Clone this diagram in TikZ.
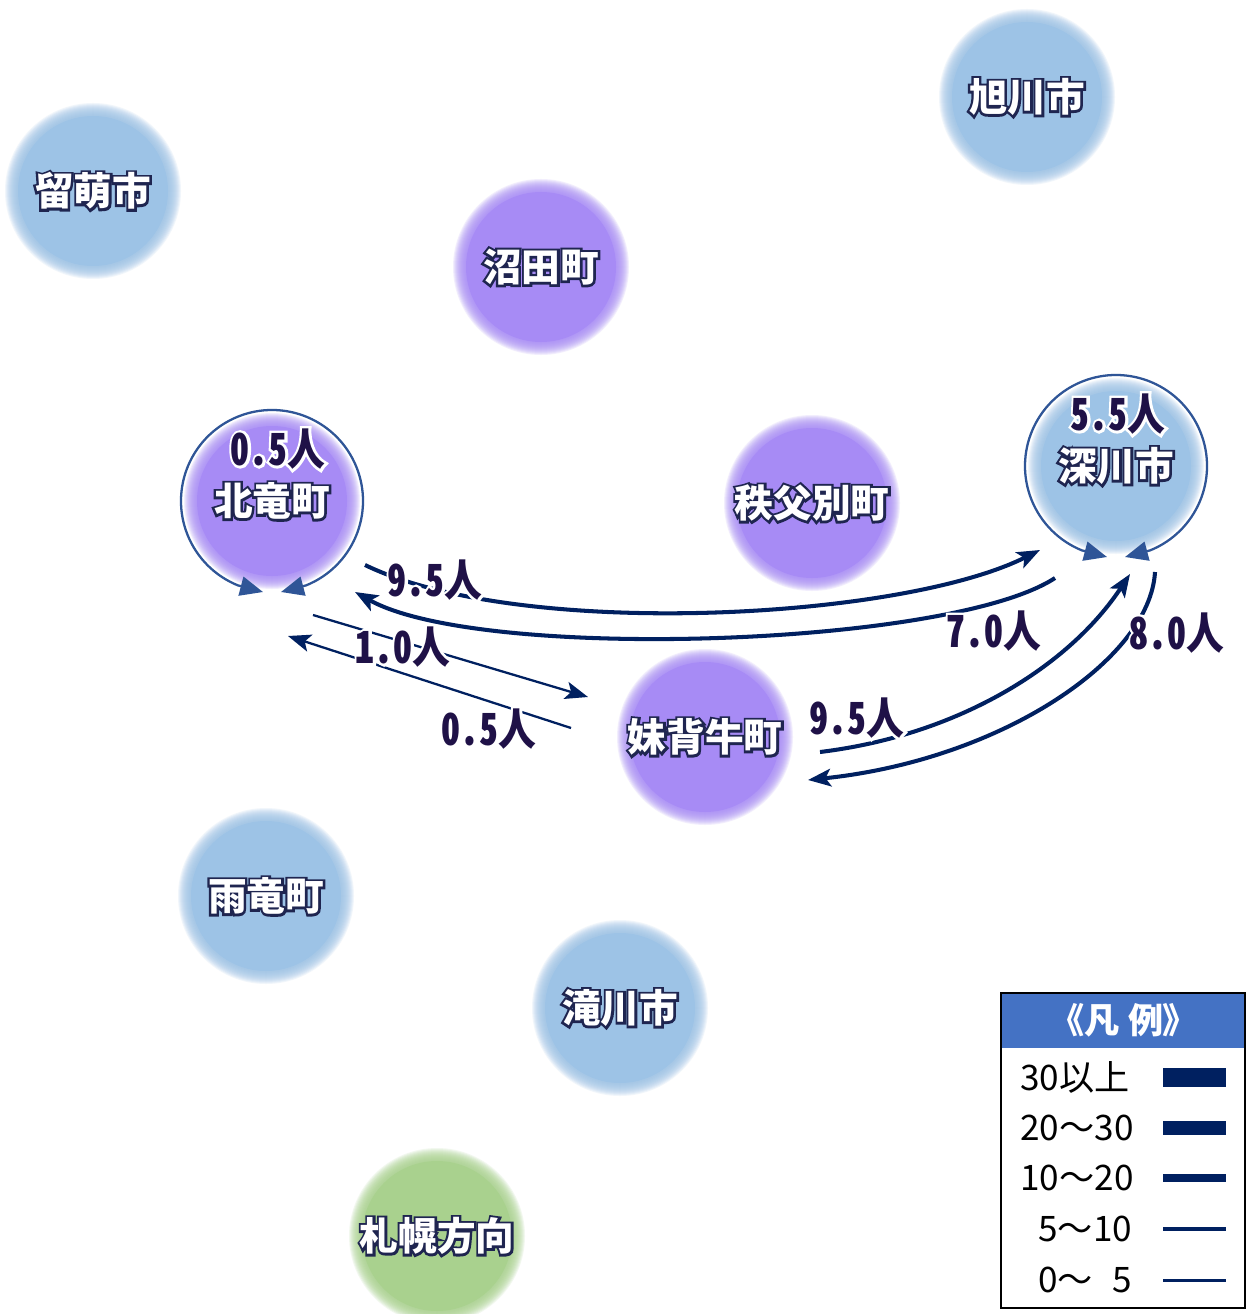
\documentclass[tikz,border=0pt]{standalone}
\usepackage{fontspec}
\usetikzlibrary{arrows.meta}
\newfontfamily\jpfont{Noto Sans CJK JP}
\newfontfamily\jpglow{Noto Sans CJK JP}[FakeBold=12]
\newfontfamily\numfont{Noto Sans CJK JP}[CharacterWidth=Half, FakeStretch=0.86]
\newfontfamily\numglow{Noto Sans CJK JP}[CharacterWidth=Half, FakeStretch=0.86, FakeBold=12]
\newfontfamily\legfont{Noto Sans CJK JP}[CharacterWidth=AlternateProportional]
\definecolor{cblue}{HTML}{9DC3E6}
\definecolor{cpurple}{HTML}{A78BF5}
\definecolor{cgreen}{HTML}{A9D18E}
\definecolor{navy}{HTML}{002060}
\definecolor{ringblue}{HTML}{2F5597}
\definecolor{numcol}{HTML}{1F1147}
\definecolor{shadowcol}{HTML}{1F2550}
\definecolor{legblue}{HTML}{4472C4}

% text with a glow round it: colour, glow font, text
\newcommand\halo[3]{\rlap{\textcolor{#1}{#2#3}}#3}
% disc with a soft edge
\newcommand\softdisc[2]{%
  \foreach \rr in {88,87,...,76}{\fill[#2, opacity=.14] (#1) circle (\rr);}%
  \fill[#2] (#1) circle (75);}

\tikzset{
  town/.style={text=white, inner sep=0pt, font=\jpfont\bfseries\fontsize{22}{26}\selectfont},
  people/.style={text=numcol, inner sep=0pt, font=\numfont\bfseries\fontsize{25}{28}\selectfont},
  flowline/.style={navy, line width=2.3pt, -{Stealth[length=13pt,width=10pt,inset=3pt]}},
  thinflow/.style={flowline, line width=1.3pt},
  selfring/.style={ringblue, line width=1.3pt,
    {Triangle[length=13pt,width=11pt]}-{Triangle[length=13pt,width=11pt]}},
  legtext/.style={inner sep=0pt, anchor=west, font=\jpfont\fontsize{20}{24}\selectfont},
}

\begin{document}
\begin{tikzpicture}[x=0.02cm,y=-0.02cm]
\fill[white] (0,0) rectangle (1247,1314);
\useasboundingbox (0,0) rectangle (1247,1314);

% towns
\foreach \nm/\pos/\col/\txt in {
    rumoi/{93,191}/cblue/留萌市, numata/{541,267}/cpurple/沼田町,
    asahikawa/{1027,97}/cblue/旭川市, chippubetsu/{812,503}/cpurple/秩父別町,
    moseushi/{705,737}/cpurple/妹背牛町, uryu/{266,896}/cblue/雨竜町,
    takikawa/{620,1008}/cblue/滝川市, sapporo/{437,1236}/cgreen/札幌方向,
    hokuryu/{272,501}/cpurple/北竜町, fukagawa/{1116,466}/cblue/深川市}{
  \softdisc{\pos}{\col}
  \node[town] (\nm) at (\pos) {\halo{shadowcol}{\jpglow}{\txt}};
}

% flows staying in the town
\foreach \nm in {hokuryu, fukagawa}
  \draw[selfring] ([shift={(9,91)}]\nm.center) -- ([shift={(68:91)}]\nm.center)
    arc[start angle=68, end angle=-248, radius=91] -- ([shift={(-9,91)}]\nm.center);
\node[people] (hkstay) at (278,449) {\halo{white}{\numglow}{0.5人}};
\node[people] (fkstay) at (1118,414) {\halo{white}{\numglow}{5.5人}};

% flows between towns
\coordinate (hk1) at (365,565);
\coordinate (hk2) at (355,592);
\coordinate (hk3) at (313,615);
\coordinate (hk4) at (288,636);
\coordinate (fk1) at (1040,550);
\coordinate (fk2) at (1055,578);
\coordinate (fk3) at (1130,574);
\coordinate (fk4) at (1155,572);
\coordinate (ms1) at (588,697);
\coordinate (ms2) at (571,728);
\coordinate (ms3) at (820,752);
\coordinate (ms4) at (808,780);

\draw[flowline] (hk1) .. controls (520,640) and (900,620) .. (fk1);
\draw[flowline] (fk2) .. controls (950,647) and (480,662) .. (hk2);
\draw[thinflow] (hk3) -- (ms1);
\draw[thinflow] (ms2) -- (hk4);
\draw[flowline] (ms3) .. controls (960,735) and (1070,665) .. (fk3);
\draw[flowline] (fk4) .. controls (1150,660) and (1000,760) .. (ms4);

\node[people] (f1) at (435,580) {\halo{white}{\numglow}{9.5人}};
\node[people] (f2) at (994,631) {\halo{white}{\numglow}{7.0人}};
\node[people] (f3) at (403,647) {\halo{white}{\numglow}{1.0人}};
\node[people] (f4) at (489,729) {\halo{white}{\numglow}{0.5人}};
\node[people] (f5) at (857,718) {\halo{white}{\numglow}{9.5人}};
\node[people] (f6) at (1177,633) {\halo{white}{\numglow}{8.0人}};

% legend
\draw[line width=1.1pt] (1001,993) rectangle (1245,1308);
\fill[legblue] (1002,994) rectangle (1244,1048);
\node[text=white, inner sep=0pt, font=\legfont\bfseries\fontsize{20}{24}\selectfont] (legtitle) at (1124,1020) {《凡 例》};
\foreach \t/\x/\w/\y [count=\i] in {30以上/1020/10.8/1077, 20～30/1020/8/1128, 10～20/1020/5.1/1178,
    5～10/1038/2.8/1229, {0～\phantom{1}5}/1038/1.7/1280}{
  \node[legtext] (leg\i) at (\x,\y) {\t};
  \draw[navy, line width=\w pt] (1163,\y) -- (1226,\y);
}
\end{tikzpicture}
\end{document}
